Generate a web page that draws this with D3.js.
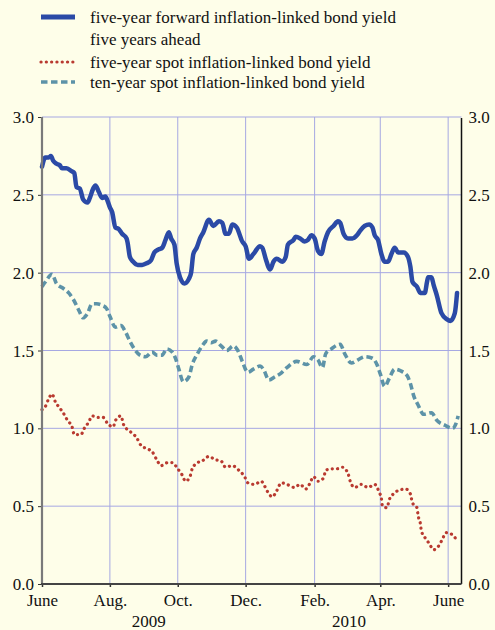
<!DOCTYPE html>
<html>
<head>
<meta charset="utf-8">
<script src="https://cdn.jsdelivr.net/npm/d3@7"></script>
</head>
<body style="margin:0; background:#fefee9">
<svg width="495" height="630"></svg>
<script>
// five-year forward inflation-linked bond yield five years ahead
var forwardYield = [
  ["2009-06-01", 2.68], ["2009-06-04", 2.74], ["2009-06-07", 2.74], ["2009-06-09", 2.75],
  ["2009-06-11", 2.72], ["2009-06-14", 2.70], ["2009-06-17", 2.69], ["2009-06-19", 2.67],
  ["2009-06-23", 2.67], ["2009-06-28", 2.65], ["2009-06-30", 2.64], ["2009-07-02", 2.55],
  ["2009-07-05", 2.54], ["2009-07-08", 2.47], ["2009-07-12", 2.45], ["2009-07-14", 2.48],
  ["2009-07-17", 2.54], ["2009-07-19", 2.56], ["2009-07-22", 2.52], ["2009-07-25", 2.48],
  ["2009-07-28", 2.49], ["2009-07-30", 2.46], ["2009-08-01", 2.42], ["2009-08-03", 2.39],
  ["2009-08-06", 2.29], ["2009-08-09", 2.28], ["2009-08-12", 2.25], ["2009-08-16", 2.22],
  ["2009-08-17", 2.19], ["2009-08-19", 2.10], ["2009-08-22", 2.07], ["2009-08-26", 2.05],
  ["2009-08-30", 2.05], ["2009-09-03", 2.06], ["2009-09-07", 2.08], ["2009-09-10", 2.13],
  ["2009-09-14", 2.15], ["2009-09-17", 2.16], ["2009-09-20", 2.21], ["2009-09-23", 2.26],
  ["2009-09-25", 2.22], ["2009-09-28", 2.18], ["2009-09-30", 2.06], ["2009-10-03", 1.97],
  ["2009-10-07", 1.93], ["2009-10-11", 1.96], ["2009-10-13", 2.00], ["2009-10-15", 2.12],
  ["2009-10-18", 2.16], ["2009-10-21", 2.22], ["2009-10-24", 2.26], ["2009-10-29", 2.34],
  ["2009-11-02", 2.30], ["2009-11-07", 2.33], ["2009-11-10", 2.32], ["2009-11-13", 2.25],
  ["2009-11-16", 2.25], ["2009-11-19", 2.31], ["2009-11-23", 2.29], ["2009-11-28", 2.20],
  ["2009-12-01", 2.17], ["2009-12-04", 2.09], ["2009-12-08", 2.12], ["2009-12-14", 2.17],
  ["2009-12-16", 2.16], ["2009-12-19", 2.09], ["2009-12-23", 2.02], ["2009-12-26", 2.07],
  ["2009-12-29", 2.09], ["2010-01-03", 2.07], ["2010-01-06", 2.10], ["2010-01-08", 2.18],
  ["2010-01-13", 2.21], ["2010-01-15", 2.23], ["2010-01-19", 2.22], ["2010-01-23", 2.20],
  ["2010-01-26", 2.21], ["2010-01-29", 2.24], ["2010-02-01", 2.22], ["2010-02-04", 2.14],
  ["2010-02-07", 2.12], ["2010-02-10", 2.20], ["2010-02-13", 2.26], ["2010-02-18", 2.30],
  ["2010-02-22", 2.33], ["2010-02-24", 2.32], ["2010-02-27", 2.25], ["2010-03-03", 2.22],
  ["2010-03-07", 2.22], ["2010-03-11", 2.24], ["2010-03-14", 2.27], ["2010-03-18", 2.30],
  ["2010-03-22", 2.31], ["2010-03-25", 2.29], ["2010-03-27", 2.24], ["2010-03-30", 2.21],
  ["2010-04-02", 2.12], ["2010-04-05", 2.07], ["2010-04-08", 2.07], ["2010-04-11", 2.12],
  ["2010-04-14", 2.16], ["2010-04-17", 2.13], ["2010-04-22", 2.13], ["2010-04-26", 2.10],
  ["2010-04-28", 2.04], ["2010-04-30", 1.94], ["2010-05-04", 1.91], ["2010-05-07", 1.87],
  ["2010-05-11", 1.87], ["2010-05-13", 1.94], ["2010-05-14", 1.97], ["2010-05-17", 1.97],
  ["2010-05-19", 1.92], ["2010-05-22", 1.85], ["2010-05-26", 1.74], ["2010-05-31", 1.70],
  ["2010-06-03", 1.69], ["2010-06-07", 1.74], ["2010-06-09", 1.87]
];

// five-year spot inflation-linked bond yield
var fiveYearSpot = [
  ["2009-06-01", 1.12], ["2009-06-04", 1.14], ["2009-06-07", 1.19], ["2009-06-10", 1.22],
  ["2009-06-13", 1.17], ["2009-06-17", 1.13], ["2009-06-20", 1.10], ["2009-06-24", 1.05],
  ["2009-06-28", 1.01], ["2009-06-30", 0.96], ["2009-07-06", 0.96], ["2009-07-09", 1.00],
  ["2009-07-13", 1.04], ["2009-07-16", 1.08], ["2009-07-21", 1.07], ["2009-07-26", 1.07],
  ["2009-07-30", 1.03], ["2009-08-04", 1.01], ["2009-08-06", 1.05], ["2009-08-11", 1.08],
  ["2009-08-13", 1.03], ["2009-08-17", 0.99], ["2009-08-21", 0.97], ["2009-08-25", 0.94],
  ["2009-08-29", 0.89], ["2009-09-03", 0.87], ["2009-09-08", 0.85], ["2009-09-12", 0.80],
  ["2009-09-16", 0.76], ["2009-09-22", 0.78], ["2009-09-26", 0.78], ["2009-10-01", 0.74],
  ["2009-10-05", 0.70], ["2009-10-08", 0.66], ["2009-10-12", 0.69], ["2009-10-14", 0.74],
  ["2009-10-19", 0.78], ["2009-10-23", 0.79], ["2009-10-29", 0.82], ["2009-11-03", 0.80],
  ["2009-11-09", 0.79], ["2009-11-13", 0.75], ["2009-11-19", 0.76], ["2009-11-25", 0.73],
  ["2009-11-30", 0.69], ["2009-12-03", 0.65], ["2009-12-09", 0.64], ["2009-12-15", 0.66],
  ["2009-12-18", 0.63], ["2009-12-21", 0.59], ["2009-12-25", 0.56], ["2009-12-29", 0.60],
  ["2010-01-02", 0.65], ["2010-01-07", 0.64], ["2010-01-14", 0.62], ["2010-01-19", 0.64],
  ["2010-01-24", 0.61], ["2010-01-28", 0.65], ["2010-01-31", 0.69], ["2010-02-04", 0.66],
  ["2010-02-09", 0.68], ["2010-02-11", 0.73], ["2010-02-16", 0.74], ["2010-02-21", 0.74],
  ["2010-02-26", 0.75], ["2010-03-03", 0.71], ["2010-03-05", 0.66], ["2010-03-09", 0.62],
  ["2010-03-15", 0.64], ["2010-03-21", 0.62], ["2010-03-27", 0.64], ["2010-03-31", 0.59],
  ["2010-04-02", 0.55], ["2010-04-03", 0.50], ["2010-04-07", 0.49], ["2010-04-09", 0.54],
  ["2010-04-13", 0.58], ["2010-04-17", 0.60], ["2010-04-24", 0.61], ["2010-04-28", 0.58],
  ["2010-04-30", 0.52], ["2010-05-04", 0.49], ["2010-05-05", 0.44], ["2010-05-07", 0.39],
  ["2010-05-08", 0.34], ["2010-05-12", 0.29], ["2010-05-15", 0.26], ["2010-05-19", 0.22],
  ["2010-05-24", 0.25], ["2010-05-27", 0.29], ["2010-05-30", 0.33], ["2010-06-04", 0.32],
  ["2010-06-09", 0.28]
];

// ten-year spot inflation-linked bond yield
var tenYearSpot = [
  ["2009-06-01", 1.91], ["2009-06-04", 1.94], ["2009-06-10", 1.99], ["2009-06-14", 1.93],
  ["2009-06-20", 1.90], ["2009-06-25", 1.87], ["2009-06-29", 1.83], ["2009-07-04", 1.76],
  ["2009-07-08", 1.71], ["2009-07-12", 1.74], ["2009-07-16", 1.80], ["2009-07-20", 1.80],
  ["2009-07-25", 1.79], ["2009-07-29", 1.77], ["2009-08-01", 1.72], ["2009-08-06", 1.65],
  ["2009-08-11", 1.66], ["2009-08-15", 1.62], ["2009-08-19", 1.56], ["2009-08-24", 1.50],
  ["2009-08-28", 1.47], ["2009-09-02", 1.46], ["2009-09-08", 1.49], ["2009-09-12", 1.47],
  ["2009-09-17", 1.47], ["2009-09-21", 1.51], ["2009-09-26", 1.49], ["2009-09-29", 1.45],
  ["2009-10-02", 1.38], ["2009-10-06", 1.30], ["2009-10-11", 1.33], ["2009-10-14", 1.41],
  ["2009-10-18", 1.47], ["2009-10-23", 1.53], ["2009-10-27", 1.56], ["2009-10-31", 1.55],
  ["2009-11-04", 1.56], ["2009-11-09", 1.53], ["2009-11-14", 1.50], ["2009-11-20", 1.53],
  ["2009-11-24", 1.50], ["2009-11-28", 1.43], ["2009-12-03", 1.36], ["2009-12-08", 1.38],
  ["2009-12-14", 1.40], ["2009-12-17", 1.38], ["2009-12-22", 1.31], ["2009-12-27", 1.33],
  ["2010-01-01", 1.35], ["2010-01-07", 1.39], ["2010-01-16", 1.43], ["2010-01-25", 1.41],
  ["2010-01-31", 1.46], ["2010-02-04", 1.44], ["2010-02-08", 1.39], ["2010-02-11", 1.48],
  ["2010-02-16", 1.51], ["2010-02-24", 1.54], ["2010-02-28", 1.48], ["2010-03-06", 1.42],
  ["2010-03-12", 1.44], ["2010-03-18", 1.46], ["2010-03-25", 1.45], ["2010-03-29", 1.41],
  ["2010-04-01", 1.35], ["2010-04-05", 1.27], ["2010-04-09", 1.32], ["2010-04-14", 1.38],
  ["2010-04-19", 1.37], ["2010-04-25", 1.34], ["2010-04-28", 1.29], ["2010-05-01", 1.21],
  ["2010-05-05", 1.15], ["2010-05-10", 1.09], ["2010-05-17", 1.10], ["2010-05-22", 1.05],
  ["2010-05-29", 1.02], ["2010-06-05", 1.00], ["2010-06-08", 1.03], ["2010-06-10", 1.08]
];

var yTicks = [0, 0.5, 1.0, 1.5, 2.0, 2.5, 3.0];
var monthTicks = ["2009-06-01", "2009-08-01", "2009-10-01", "2009-12-01",
                  "2010-02-01", "2010-04-01", "2010-06-01"];
var monthLabels = ["June", "Aug.", "Oct.", "Dec.", "Feb.", "Apr.", "June"];
var yearLabels = [["2009", "2009-09-05"], ["2010", "2010-03-04"]];

var legendItems = [
  {lines: ["five-year forward inflation-linked bond yield", "five years ahead"], key: "fwd"},
  {lines: ["five-year spot inflation-linked bond yield"], key: "five"},
  {lines: ["ten-year spot inflation-linked bond yield"], key: "ten"}
];

var styles = {
  fwd:  {color: "#2b4aa6", width: 4.5, dash: null, cap: "round"},
  five: {color: "#b93a30", width: 3.2, dash: "0.1 5.2", cap: "round"},
  ten:  {color: "#5d93a8", width: 3.6, dash: "6.5 3.5", cap: "butt"}
};

var parse = d3.timeParse("%Y-%m-%d");
var svg = d3.select("svg");

var plotL = 42, plotR = 461.5, plotT = 117, plotB = 584;

var x = d3.scaleTime()
    .domain([parse("2009-06-01"), parse("2010-06-13")])
    .range([plotL, plotR]);
var y = d3.scaleLinear().domain([0, 3]).range([plotB, plotT]);

// grid
svg.selectAll(".hgrid").data(yTicks.filter(function(d) { return d > 0; }))
  .enter().append("line")
    .attr("x1", plotL).attr("x2", plotR)
    .attr("y1", function(d) { return y(d); })
    .attr("y2", function(d) { return y(d); })
    .attr("stroke", "#a6a8e2").attr("stroke-width", 1);
svg.selectAll(".vgrid").data(monthTicks.slice(1))
  .enter().append("line")
    .attr("x1", function(d) { return x(parse(d)); })
    .attr("x2", function(d) { return x(parse(d)); })
    .attr("y1", plotT).attr("y2", plotB)
    .attr("stroke", "#a6a8e2").attr("stroke-width", 1);

// lines
var line = d3.line()
    .x(function(d) { return x(parse(d[0])); })
    .y(function(d) { return y(d[1]); })
    .curve(d3.curveMonotoneX);

function drawSeries(data, s) {
  svg.append("path")
    .datum(data)
    .attr("d", line)
    .attr("fill", "none")
    .attr("stroke", s.color)
    .attr("stroke-width", s.width)
    .attr("stroke-linecap", s.cap)
    .attr("stroke-linejoin", "round")
    .attr("stroke-dasharray", s.dash);
}
drawSeries(tenYearSpot, styles.ten);
drawSeries(fiveYearSpot, styles.five);
drawSeries(forwardYield, styles.fwd);

// axes
var gl = svg.append("g").attr("transform", "translate(" + plotL + ",0)")
    .call(d3.axisLeft(y).tickValues(yTicks).tickSize(4).tickFormat(d3.format(".1f")));
gl.select(".domain").remove();
gl.selectAll(".tick line").attr("stroke", "#333");
gl.selectAll(".tick text").attr("x", -8).attr("dy", "0.33em");
svg.append("line").attr("x1", plotL).attr("x2", plotL).attr("y1", plotT).attr("y2", plotB)
  .attr("stroke", "#7a7a7a").attr("stroke-width", 2.2);

var gr = svg.append("g").attr("transform", "translate(" + plotR + ",0)")
    .call(d3.axisRight(y).tickValues(yTicks).tickSize(0).tickFormat(d3.format(".1f")));
gr.select(".domain").remove();
gr.selectAll(".tick text").attr("x", 7).attr("dy", "0.33em");
svg.append("line").attr("x1", plotR).attr("x2", plotR).attr("y1", plotT + 1).attr("y2", plotB)
  .attr("stroke", "#111").attr("stroke-width", 1.5);

var gx = svg.append("g").attr("transform", "translate(0," + plotB + ")")
    .call(d3.axisBottom(x).tickValues(monthTicks.map(parse)).tickSize(3)
      .tickFormat(function(d, i) { return monthLabels[i]; }));
gx.select(".domain").remove();
gx.selectAll(".tick line").attr("stroke", "#333").attr("stroke-width", 1.5);
gx.selectAll(".tick text").attr("y", 10).attr("dy", "0.71em");
svg.append("line").attr("x1", plotL - 1).attr("x2", plotR).attr("y1", plotB).attr("y2", plotB)
  .attr("stroke", "#444").attr("stroke-width", 2);

svg.selectAll(".year").data(yearLabels).enter().append("text")
  .attr("x", function(d) { return x(parse(d[1])); })
  .attr("y", 627)
  .attr("text-anchor", "middle")
  .text(function(d) { return d[0]; });

// legend
var rowY = [17, 62, 82];
legendItems.forEach(function(item, i) {
  var s = styles[item.key];
  svg.append("line")
    .attr("x1", 41).attr("x2", 75)
    .attr("y1", rowY[i]).attr("y2", rowY[i])
    .attr("stroke", s.color)
    .attr("stroke-width", item.key == "fwd" ? 5 : s.width)
    .attr("stroke-linecap", item.key == "five" ? "round" : "butt")
    .attr("stroke-dasharray", s.dash);
  item.lines.forEach(function(t, j) {
    svg.append("text")
      .attr("x", 90).attr("y", rowY[i] + 5.5 + j * 22)
      .text(t);
  });
});

// all labels in Liberation Serif, set on the text nodes themselves
svg.selectAll("g").attr("font-family", null).attr("font-size", null);
svg.selectAll("text")
  .attr("font-family", "Liberation Serif")
  .attr("font-size", 17)
  .attr("fill", "#111");
</script>
</body>
</html>
